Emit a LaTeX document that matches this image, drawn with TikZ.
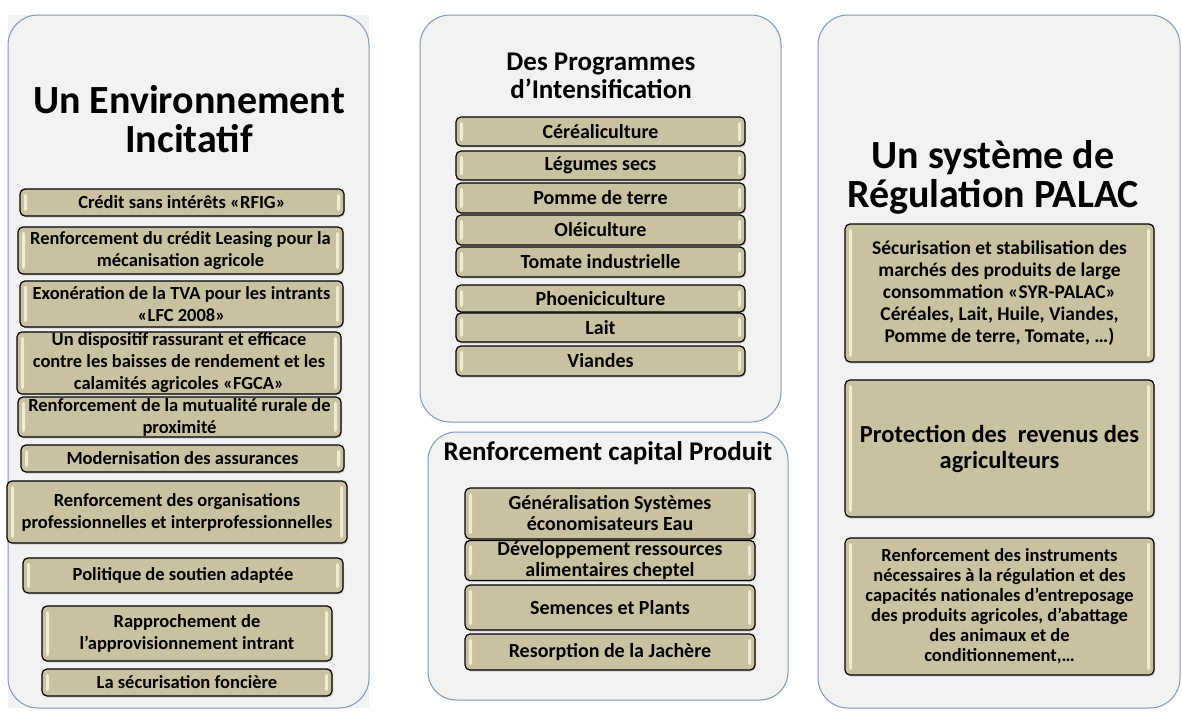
\documentclass[tikz,border=0pt]{standalone}
\usepackage{fontspec}
\setmainfont{Carlito}
\usetikzlibrary{shadows}

\definecolor{panelfill}{HTML}{F2F2F2}
\definecolor{panelline}{HTML}{7C98BC}
\definecolor{boxfill}{HTML}{C9C2A0}
\definecolor{boxlight}{HTML}{F7F3DC}

\begin{document}
\begin{tikzpicture}[x=1pt,y=-1pt,
  panel/.style={fill=panelfill, draw=panelline, line width=1pt, rounded corners=30pt},
  headline/.style={align=center, inner sep=0pt, font=\bfseries\fontsize{40}{39}\selectfont},
  item/.style={draw=black, line width=1.2pt, fill=boxfill, rounded corners=5pt,
    align=center, inner sep=1pt, font=\bfseries\fontsize{18.5}{22}\selectfont,
    drop shadow={shadow xshift=1pt, shadow yshift=-1.5pt, opacity=.3},
    path picture={
      \fill[boxlight, opacity=.85, rounded corners=2pt]
        ([xshift=4pt,yshift=-5pt]path picture bounding box.north west) rectangle
        ([xshift=7pt,yshift=5pt]path picture bounding box.south west);
      \fill[boxlight, opacity=.85, rounded corners=2pt]
        ([xshift=-4pt,yshift=-5pt]path picture bounding box.north east) rectangle
        ([xshift=-7pt,yshift=5pt]path picture bounding box.south east);
    }},
  midtext/.style={font=\bfseries\fontsize{20}{21}\selectfont},
]
\useasboundingbox (0,0) rectangle (1182,712);
\fill[white] (0,0) rectangle (1182,712);

% panels
\fill[panelfill] (8,15) rectangle (369,708);
\draw[panel] (8,15) rectangle (369,708);
\draw[panel] (420,15) rectangle (781,422);
\draw[panel, rounded corners=28pt] (428,432) rectangle (788,700);
\draw[panel] (818,15) rectangle (1180,708);

% titles
\node[headline] (envtitle) at (189,119) {Un Environnement\\Incitatif};
\node[headline, font=\bfseries\fontsize{27}{28}\selectfont] (progtitle) at (601,76) {Des Programmes\\d’Intensification};
\node[headline, font=\bfseries\fontsize{27}{28}\selectfont, anchor=base] (captitle) at (608,460) {Renforcement capital Produit};
\node[headline] (regtitle) at (993,177) {Un système de\\Régulation PALAC};

% left column
\node[item, minimum width=324pt, minimum height=27pt] (rfig) at (182,202.5) {Crédit sans intérêts «RFIG»};
\node[item, minimum width=325pt, minimum height=47pt] (leasing) at (180.5,250.5) {Renforcement du crédit Leasing pour la\\mécanisation agricole};
\node[item, minimum width=323pt, minimum height=46pt] (tva) at (181.5,304) {Exonération de la TVA pour les intrants\\«LFC 2008»};
\node[item, minimum width=324pt, minimum height=58pt] (fgca) at (179,363) {Un dispositif rassurant et efficace\\contre les baisses de rendement et les\\calamités agricoles «FGCA»};
\node[item, minimum width=323pt, minimum height=40pt] (mutual) at (179.5,417) {Renforcement de la mutualité rurale de\\proximité};
\node[item, minimum width=323pt, minimum height=27pt] (assur) at (182.5,458.5) {Modernisation des assurances};
\node[item, minimum width=340pt, minimum height=62pt] (orga) at (177,512) {Renforcement des organisations\\professionnelles et interprofessionnelles};
\node[item, minimum width=320pt, minimum height=35pt] (soutien) at (183,575.5) {Politique de soutien adaptée};
\node[item, minimum width=290pt, minimum height=55pt] (intrant) at (187,633.5) {Rapprochement de\\l’approvisionnement intrant};
\node[item, minimum width=290pt, minimum height=27pt] (foncier) at (187,682.5) {La sécurisation foncière};

% middle column, programmes
\node[item, midtext, minimum width=289pt, minimum height=29pt] (cereal) at (600.5,131.5) {Céréaliculture};
\node[item, midtext, minimum width=289pt, minimum height=29pt] (legume) at (600.5,165.5) {Légumes secs};
\node[item, midtext, minimum width=289pt, minimum height=30pt] (pomme) at (600.5,198) {Pomme de terre};
\node[item, midtext, minimum width=289pt, minimum height=30pt] (olei) at (600.5,230) {Oléiculture};
\node[item, midtext, minimum width=289pt, minimum height=30pt] (tomate) at (600.5,262) {Tomate industrielle};
\node[item, midtext, minimum width=289pt, minimum height=27pt] (phoeni) at (600.5,298.5) {Phoeniciculture};
\node[item, midtext, minimum width=289pt, minimum height=29pt] (lait) at (600.5,327.5) {Lait};
\node[item, midtext, minimum width=289pt, minimum height=30pt] (viande) at (600.5,361) {Viandes};

% middle column, capital produit
\node[item, midtext, minimum width=290pt, minimum height=51pt] (eau) at (610,513.5) {Généralisation Systèmes\\économisateurs Eau};
\node[item, midtext, minimum width=290pt, minimum height=39pt] (cheptel) at (610,560.5) {Développement ressources\\alimentaires cheptel};
\node[item, midtext, minimum width=290pt, minimum height=45pt] (semence) at (610,607.5) {Semences et Plants};
\node[item, midtext, minimum width=290pt, minimum height=36pt] (jachere) at (610,652) {Resorption de la Jachère};

% right column
\node[item, font=\bfseries\fontsize{19.5}{22}\selectfont, minimum width=309pt, minimum height=138pt] (syrpalac) at (999.5,293) {Sécurisation et stabilisation des\\marchés des produits de large\\consommation «SYR-PALAC»\\Céréales, Lait, Huile, Viandes,\\Pomme de terre, Tomate, …)};
\node[item, font=\bfseries\fontsize{24.5}{26}\selectfont, minimum width=309pt, minimum height=137pt] (revenu) at (999.5,448.5) {Protection des\ \ revenus des\\agriculteurs};
\node[item, font=\bfseries\fontsize{18.5}{20}\selectfont, minimum width=309pt, minimum height=137pt] (stock) at (999.5,606.5) {Renforcement des instruments\\nécessaires à la régulation et des\\capacités nationales d’entreposage\\des produits agricoles, d’abattage\\des animaux et de\\conditionnement,…};
\end{tikzpicture}
\end{document}
